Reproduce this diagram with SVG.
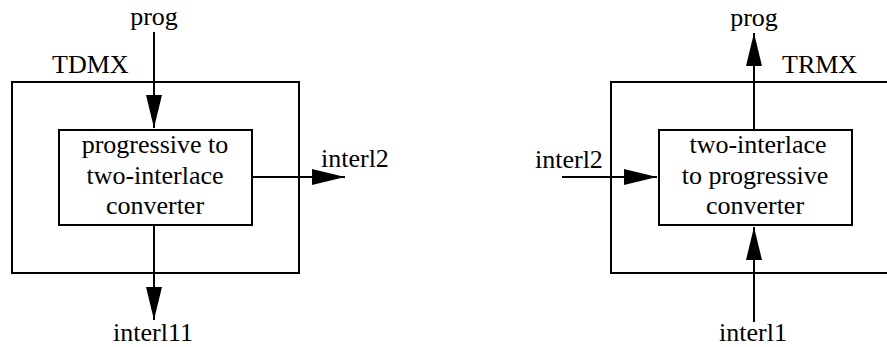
<svg xmlns="http://www.w3.org/2000/svg" width="887" height="347" viewBox="0 0 887 347">
<style>
.box{fill:none;stroke:#000;stroke-width:2}
.inner{fill:#fff;stroke:#000;stroke-width:2}
.edge{stroke:#000;stroke-width:2;fill:none;marker-end:url(#ah)}
.t{font-family:'Liberation Serif','DejaVu Serif','Noto Serif',serif;font-size:26px;fill:#000}
.c{text-anchor:middle}
</style>
<defs>
<marker id="ah" markerUnits="userSpaceOnUse" markerWidth="34" markerHeight="16" refX="33" refY="8" orient="auto" viewBox="0 0 34 16">
<path d="M0,0 L33,8 L0,16 Z" fill="#000"/>
</marker>
</defs>
<rect width="887" height="347" fill="#fff"/>
<g id="TDMX">
<rect class="box" x="12" y="82" width="287" height="191"/>
<text class="t" x="52" y="73" font-family="Liberation Serif, serif">TDMX</text>
</g>
<g id="p2i">
<rect class="inner" x="59" y="130" width="193" height="95"/>
<text class="t c" x="155" y="153">progressive to</text>
<text class="t c" x="155" y="184">two-interlace</text>
<text class="t c" x="155" y="214">converter</text>
</g>
<g id="TRMX">
<rect class="box" x="611" y="82" width="285" height="191"/>
<text class="t" x="782" y="73">TRMX</text>
</g>
<g id="i2p">
<rect class="inner" x="659" y="130" width="193" height="95"/>
<text class="t c" x="758" y="153">two-interlace</text>
<text class="t c" x="755" y="184">to progressive</text>
<text class="t c" x="755" y="214">converter</text>
</g>
<g id="labels">
<text class="t c" x="154" y="25">prog</text>
<text class="t c" x="153" y="341">interl11</text>
<text class="t" x="321" y="167">interl2</text>
<text class="t c" x="754" y="26">prog</text>
<text class="t c" x="753" y="341">interl1</text>
<text class="t" x="535" y="168">interl2</text>
</g>
<g id="connectors">
<line class="edge" x1="154" y1="32" x2="154" y2="128"/>
<line class="edge" x1="154" y1="225" x2="154" y2="320"/>
<line class="edge" x1="252" y1="177" x2="345" y2="177"/>
<line class="edge" x1="754" y1="130" x2="754" y2="33"/>
<line class="edge" x1="754" y1="322" x2="754" y2="227"/>
<line class="edge" x1="562" y1="177" x2="657" y2="177"/>
</g>
</svg>
